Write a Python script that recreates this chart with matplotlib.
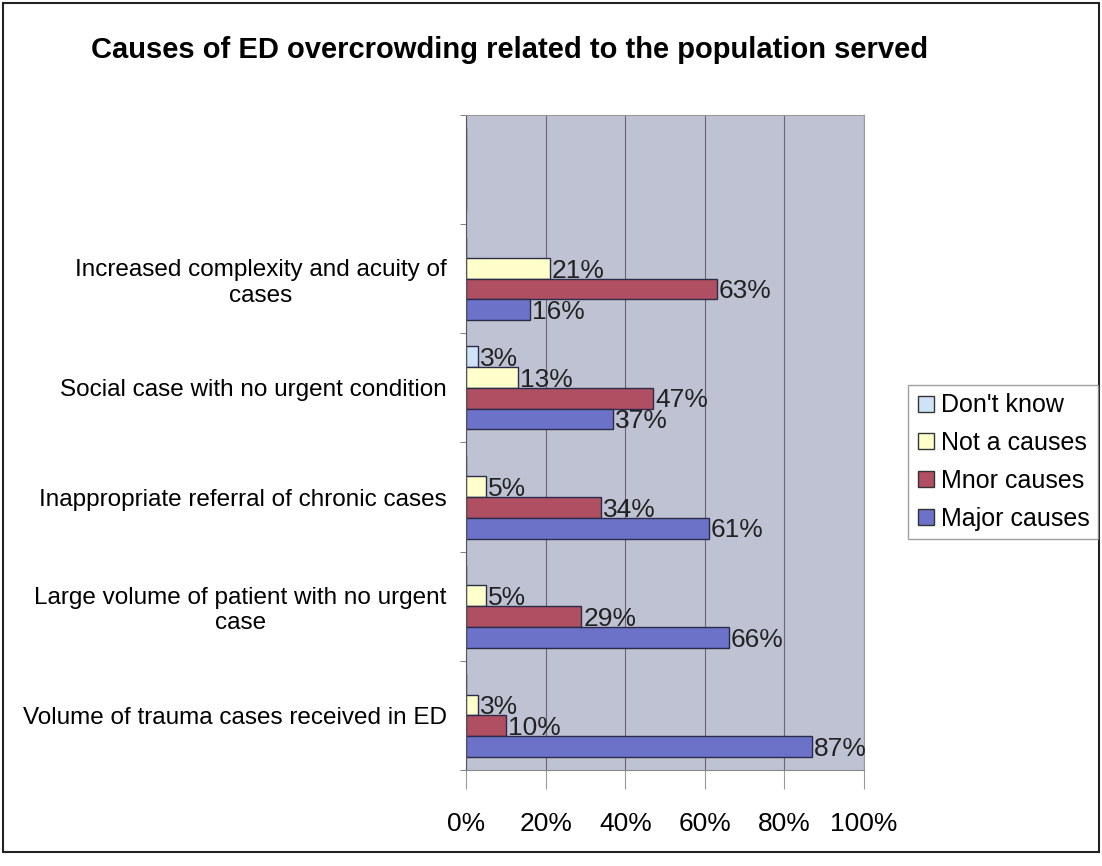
import matplotlib
matplotlib.use("Agg")
import matplotlib.pyplot as plt
from matplotlib.patches import Rectangle
from matplotlib.lines import Line2D
import numpy as np

# data, categories from bottom to top (top slot is empty in the original)
categories = [
    "Volume of trauma cases received in ED",
    "Large volume of patient with no urgent\ncase",
    "Inappropriate referral of chronic cases",
    "Social case with no urgent condition",
    "Increased complexity and acuity of\ncases",
    "",
]
dont_know = [0, 0, 0, 3, 0, 0]
not_cause = [3, 5, 5, 13, 21, 0]
minor = [10, 29, 34, 47, 63, 0]
major = [87, 66, 61, 37, 16, 0]
x_ticks = [0, 20, 40, 60, 80, 100]

series = [
    ("Don't know", dont_know, "#cfe3f7"),
    ("Not a causes", not_cause, "#ffffcc"),
    ("Mnor causes", minor, "#b04e62"),
    ("Major causes", major, "#6b72c8"),
]

plt.rcParams['font.family'] = ['Liberation Sans', 'DejaVu Sans']

fig = plt.figure(figsize=(11.02, 8.66), dpi=100)
ax = fig.add_axes([0.4229, 0.1109, 0.3612, 0.7563])
ax.set_facecolor("#bfc2d3")

y = np.arange(len(categories))
h = 0.19
offsets = [1.5 * h, 0.5 * h, -0.5 * h, -1.5 * h]

for (name, vals, col), off in zip(series, offsets):
    ax.barh(y + off, vals, height=h, color=col, edgecolor="#2b2b4a", linewidth=1.0)
    for yi, v in zip(y + off, vals):
        if v > 0:
            ax.text(v + 0.5, yi - 0.02, f"{v}%", va="center", ha="left", fontsize=19, color="#222222")

ax.set_xlim(0, 100)
ax.set_ylim(-0.5, len(categories) - 0.5)
ax.set_xticks(x_ticks)
ax.set_xticklabels([f"{t}%" for t in x_ticks], fontsize=19)
ax.tick_params(axis="x", length=14, color="#999999", pad=16)
ax.xaxis.grid(True, color="#666677", linewidth=0.8)
ax.set_axisbelow(True)

ax.set_yticks(y)
ax.set_yticklabels(categories, fontsize=17.5, multialignment="center")
ax.tick_params(axis="y", length=0, pad=14)
ax.set_yticks(np.arange(len(categories) + 1) - 0.5, minor=True)
ax.tick_params(axis="y", which="minor", length=4, color="#666666")

for s in ["top", "right"]:
    ax.spines[s].set_color("#9a9a9a")
ax.spines["bottom"].set_color("#888888")
ax.spines["left"].set_color("#555555")

handles = [Line2D([0], [0], marker="s", linestyle="", markersize=12,
                  markerfacecolor=col, markeredgecolor="#333333") for _, _, col in series]
fig.legend(handles, [n for n, _, _ in series], loc="upper left",
           bbox_to_anchor=(0.824, 0.556), fontsize=18, frameon=True, fancybox=False,
           edgecolor="#888888", handlelength=0.7, handletextpad=0.25,
           labelspacing=0.55, borderpad=0.35, borderaxespad=0)

fig.text(0.462, 0.942, "Causes of ED overcrowding related to the population served",
         ha="center", va="center", fontsize=21, fontweight="bold")

fig.patches.append(Rectangle((0.003, 0.016), 0.994, 0.98, transform=fig.transFigure,
                             fill=False, edgecolor="#222222", linewidth=1.5))

fig.savefig("out.png", dpi=100)
